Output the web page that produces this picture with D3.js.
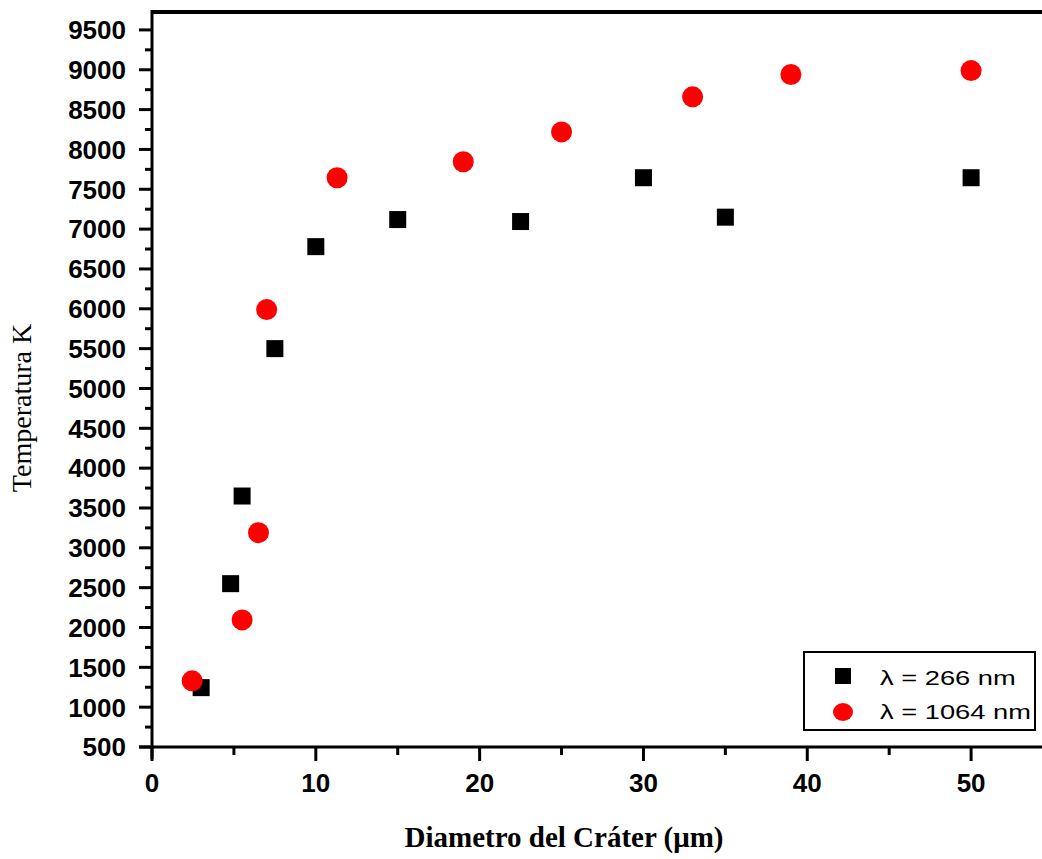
<!DOCTYPE html>
<html><head><meta charset="utf-8">
<script src="https://cdn.jsdelivr.net/npm/d3@7"></script>
<style>html,body{margin:0;padding:0;background:#fff;}svg{display:block;}</style>
</head><body>
<script>
const x266 = [3, 4.8, 5.5, 7.5, 10, 15, 22.5, 30, 35, 50];
const y266 = [1245, 2550, 3650, 5500, 6780, 7120, 7095, 7645, 7150, 7645];
const x1064 = [2.45, 5.5, 6.5, 7, 11.3, 19, 25, 33, 39, 50];
const y1064 = [1330, 2095, 3190, 5990, 7645, 7845, 8220, 8660, 8940, 8990];
const yTicks = [500,1000,1500,2000,2500,3000,3500,4000,4500,5000,5500,6000,6500,7000,7500,8000,8500,9000,9500];
const xTicks = [0,10,20,30,40,50];
const legendLabels = ["λ = 266 nm", "λ = 1064 nm"];

const W = 1042, H = 859;
const svg = d3.select("body").append("svg").attr("width", W).attr("height", H);
const L = 152, T = 12, R = 1053, B = 747;
const x = d3.scaleLinear().domain([0, 55]).range([L, R]);
const y = d3.scaleLinear().domain([500, 9725]).range([B, T]);

// top border
svg.append("line").attr("x1", L).attr("x2", R).attr("y1", T).attr("y2", T)
  .attr("stroke", "#000").attr("stroke-width", 4);

// y axis
const yAxis = svg.append("g").attr("transform", `translate(${L},0)`);
yAxis.append("line").attr("x1", 0).attr("x2", 0).attr("y1", T - 2).attr("y2", B + 12)
  .attr("stroke", "#000").attr("stroke-width", 3);
const yMinor = d3.range(750, 9750, 500);
yAxis.selectAll(".ymin").data(yMinor).enter().append("line")
  .attr("x1", -7).attr("x2", 0).attr("y1", d => y(d)).attr("y2", d => y(d))
  .attr("stroke", "#000").attr("stroke-width", 3);
yAxis.selectAll(".ymaj").data(yTicks).enter().append("line")
  .attr("x1", -13).attr("x2", 0).attr("y1", d => y(d)).attr("y2", d => y(d))
  .attr("stroke", "#000").attr("stroke-width", 3);
yAxis.selectAll(".ylab").data(yTicks).enter().append("text")
  .attr("x", -26).attr("y", d => y(d)).attr("dy", "0.36em")
  .attr("text-anchor", "end")
  .attr("font-family", "Liberation Sans, Arial, sans-serif")
  .attr("font-weight", "bold").attr("font-size", 26)
  .text(d => d);

// x axis
const xAxis = svg.append("g").attr("transform", `translate(0,${B})`);
xAxis.append("line").attr("x1", L - 13).attr("x2", R).attr("y1", 0).attr("y2", 0)
  .attr("stroke", "#000").attr("stroke-width", 3);
const xMinor = [5, 15, 25, 35, 45];
xAxis.selectAll(".xmin").data(xMinor).enter().append("line")
  .attr("x1", d => x(d)).attr("x2", d => x(d)).attr("y1", 0).attr("y2", 8)
  .attr("stroke", "#000").attr("stroke-width", 3);
xAxis.selectAll(".xmaj").data(xTicks).enter().append("line")
  .attr("x1", d => x(d)).attr("x2", d => x(d)).attr("y1", 0).attr("y2", 14)
  .attr("stroke", "#000").attr("stroke-width", 3);
xAxis.selectAll(".xlab").data(xTicks).enter().append("text")
  .attr("x", d => x(d)).attr("y", 45)
  .attr("text-anchor", "middle")
  .attr("font-family", "Liberation Sans, Arial, sans-serif")
  .attr("font-weight", "bold").attr("font-size", 26)
  .text(d => d);

// axis titles
svg.append("text").attr("transform", `translate(31,408) rotate(-90)`)
  .attr("text-anchor", "middle")
  .attr("font-family", "Liberation Serif, Times New Roman, serif")
  .attr("font-size", 28).text("Temperatura K");
svg.append("text").attr("x", 564).attr("y", 847)
  .attr("text-anchor", "middle")
  .attr("font-family", "Liberation Serif, Times New Roman, serif")
  .attr("font-weight", "bold").attr("font-size", 29).text("Diametro del Cráter (μm)");

// data
const sq = 17;
svg.selectAll(".s266").data(x266.map((d, i) => [d, y266[i]])).enter().append("rect")
  .attr("x", d => x(d[0]) - sq / 2).attr("y", d => y(d[1]) - sq / 2)
  .attr("width", sq).attr("height", sq).attr("fill", "#000");
svg.selectAll(".c1064").data(x1064.map((d, i) => [d, y1064[i]])).enter().append("circle")
  .attr("cx", d => x(d[0])).attr("cy", d => y(d[1])).attr("r", 10.5)
  .attr("fill", "#ff0000");

// legend
const lg = svg.append("g");
lg.append("rect").attr("x", 804).attr("y", 652).attr("width", 231).attr("height", 78)
  .attr("fill", "#fff").attr("stroke", "#000").attr("stroke-width", 2);
lg.append("rect").attr("x", 835).attr("y", 668).attr("width", 16).attr("height", 16).attr("fill", "#000");
lg.append("ellipse").attr("cx", 843).attr("cy", 712).attr("rx", 10).attr("ry", 9).attr("fill", "#ff0000");
lg.selectAll(".lt").data(legendLabels).enter().append("text")
  .attr("transform", (d, i) => `translate(880,${677 + i * 34}) scale(1.3,1)`)
  .attr("dy", "0.36em")
  .attr("font-family", "Liberation Sans, Arial, sans-serif")
  .attr("font-size", 21).text(d => d);
</script>
</body></html>
